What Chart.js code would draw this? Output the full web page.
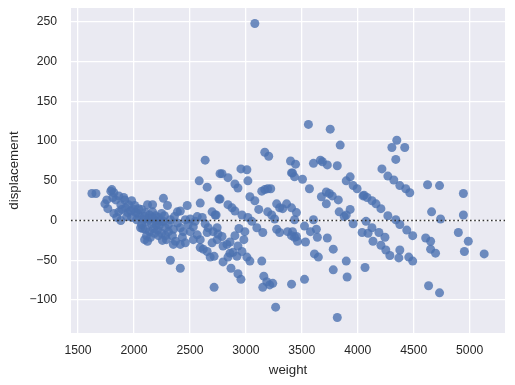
<!DOCTYPE html>
<html><head><meta charset="utf-8">
<script src="https://cdn.jsdelivr.net/npm/chart.js@4"></script>
<style>html,body{margin:0;padding:0;background:#fff;}</style>
</head><body>
<canvas id="c" width="515" height="385" style="display:block;width:515px;height:385px"></canvas>
<script>
// Data
const weight = [
 1624,1660,1757,1793,1820,1811,1766,1820,1846,1882,1908,1953,1979,1997,1944,2033,2024,2050,2068,2077,2095,1882,1864,1926,1802,1917,1970,2015,2059,
 2121,2166,2263,2299,2476,2592,2583,2654,2636,2769,2760,2388,2414,2698,2734,2565,2610,
 2068,2104,2139,2166,2192,2219,2246,2086,2121,2157,2192,2228,2263,2104,2139,2175,2210,2246,2281,2308,2281,2219,
 2388,2414,2352,2308,2441,2485,2530,2503,2565,2592,2663,2654,2707,2743,2698,2432,2370,2414,2459,2352,2121,2530,2592,2619,2654,2681,2716,2325,2414,2716,
 3080,3169,3204,3399,2787,2840,2956,3009,3018,2902,2929,2769,2840,2876,2902,2965,3036,3080,3115,3142,
 3169,3195,3222,3275,3302,3329,3364,3408,3417,3195,3231,3257,3018,3053,3098,3151,2725,2743,2751,2787,
 2796,2831,2858,2902,2938,2982,2929,2885,2858,2840,2796,2920,2965,3009,3036,2867,2929,2956,2991,3142,
 3160,3187,3151,3240,3213,3266,3408,3275,3302,3373,3408,3435,
 3559,3754,3843,3444,3604,3666,3684,3728,3817,3408,3435,3506,3568,3675,3719,3746,3772,3826,3719,3897,
 3932,3959,3994,4047,4083,3834,3879,3897,3932,3959,3452,3435,3604,3417,3452,3524,3577,3630,3639,3728,
 3533,3461,3613,3648,3781,3781,3897,3905,3524,3817,4039,4065,4074,4092,
 4349,4305,4420,4340,4216,4269,4322,4376,4429,4465,4056,4127,4163,4207,4269,4340,4376,4438,4491,4127,
 4189,4243,4136,4207,4251,4287,4376,4367,4456,4491,4624,4731,4660,4740,4607,4651,4651,4695,4633,4731,
 4944,4944,4899,4988,4953,5130,
 1740,1837,1864,1891,1935,1979,2006,2041,2095,2130,2166,2201,2237,2272,2325,2361,2343,2290,2183,2148,2112,2254,2459,2503,2547,2636
];
const displacementResid = [
 34,34,26,37,35,29,15,9,4,20,29,20,25,14,10,9,1,5,-5,-10,-24,0,11,16,39,26,12,10,-9,
 20,20,28,19,19,22,50,42,76,59,27,11,12,11,7,5,4,
 14,10,7,11,6,4,9,1,-1,-4,0,-6,-1,-11,-14,-10,-12,-16,-9,-5,-19,-19,
 -3,-9,-11,-14,-14,-5,-8,-14,-18,-24,-9,-15,-14,-24,-28,-21,-26,-30,-28,-30,-26,-24,-34,-36,-39,-46,-45,-50,-60,-84,
 248,86,81,75,59,54,65,64,50,46,41,27,20,16,12,7,30,25,14,37,
 39,40,40,21,16,15,21,16,60,11,7,2,4,-1,-9,-15,7,-9,-17,-20,
 -32,-30,-27,-19,-10,-24,-32,-40,-41,-46,-52,-45,-39,-46,-51,-60,-67,-74,-14,-51,
 -70,-77,-84,-79,-81,-109,-80,-11,-15,-14,-19,-21,
 121,115,95,71,72,76,74,70,69,60,55,52,40,30,36,34,31,26,21,50,
 55,44,40,31,29,11,5,7,14,-4,10,1,1,-14,-20,-7,-14,-11,-21,-22,
 -27,-26,-42,-46,-36,-62,-51,-71,-74,-122,-15,-59,-1,-16,
 101,92,92,77,65,56,51,44,40,35,32,25,21,15,6,1,-5,-12,-19,-9,
 -15,-21,-26,-31,-37,-44,-37,-47,-46,-51,45,44,11,2,-22,-26,-36,-41,-82,-91,
 34,7,-15,-26,-39,-42,
 21,26,31,14,5,4,19,15,5,2,4,-6,-1,6,1,5,-19,-24,-16,-21,-19,-25,1,2,-1,-4
];
const xTicks = [1500,2000,2500,3000,3500,4000,4500,5000];
const yTicks = [-100,-50,0,50,100,150,200,250];
const xRange = [1437, 5316];
const yRange = [-141.5, 267.5];
const xTitle = 'weight';
const yTitle = 'displacement';

const points = weight.map((w,i)=>({x:w, y:displacementResid[i]}));

const bgPlugin = {
  id:'bg',
  beforeDraw(chart){
    const {ctx, chartArea:a} = chart;
    ctx.save(); ctx.fillStyle='#EAEAF2';
    ctx.fillRect(a.left,a.top,a.right-a.left,a.bottom-a.top); ctx.restore();
  },
  afterDatasetsDraw(chart){
    const {ctx, chartArea:a, scales} = chart;
    const y = scales.y.getPixelForValue(0);
    ctx.save(); ctx.strokeStyle='#333333'; ctx.lineWidth=1.6;
    ctx.setLineDash([1.6,2.6]);
    ctx.beginPath(); ctx.moveTo(a.left,y); ctx.lineTo(a.right,y); ctx.stroke(); ctx.restore();
  }
};

const tickFont = {family:'"Liberation Sans", Arial, sans-serif', size:12.2};
const titleFont = {family:'"Liberation Sans", Arial, sans-serif', size:13.3};

new Chart(document.getElementById('c'), {
  type:'scatter',
  data:{datasets:[{data:points, backgroundColor:'rgba(76,114,176,0.8)', borderWidth:0, pointRadius:4.5, pointHoverRadius:4.5}]},
  plugins:[bgPlugin],
  options:{
    responsive:false, animation:false, events:[],
    layout:{padding:{left:0,right:10,top:8,bottom:0}},
    plugins:{legend:{display:false}, tooltip:{enabled:false}},
    scales:{
      x:{type:'linear', min:xRange[0], max:xRange[1],
        afterBuildTicks:s=>{s.ticks = xTicks.map(v=>({value:v}));},
        afterFit:s=>{s.height=52; s.paddingLeft=0; s.paddingRight=0;},
        grid:{color:'#ffffff', lineWidth:1.3, drawTicks:false},
        border:{display:false},
        ticks:{font:tickFont, color:'#262626', padding:10, callback:v=>String(v)},
        title:{display:true, text:xTitle, font:titleFont, color:'#262626', padding:{top:0,bottom:7}}
      },
      y:{type:'linear', min:yRange[0], max:yRange[1],
        afterBuildTicks:s=>{s.ticks = yTicks.map(v=>({value:v}));},
        afterFit:s=>{s.width=71; s.paddingTop=0; s.paddingBottom=0;},
        grid:{color:'#ffffff', lineWidth:1.3, drawTicks:false},
        border:{display:false},
        ticks:{font:tickFont, color:'#262626', padding:14, callback:v=>String(v).replace('-','\u2212')},
        title:{display:true, text:yTitle, font:titleFont, color:'#262626', padding:{top:6,bottom:0}}
      }
    }
  }
});
</script>
</body></html>
